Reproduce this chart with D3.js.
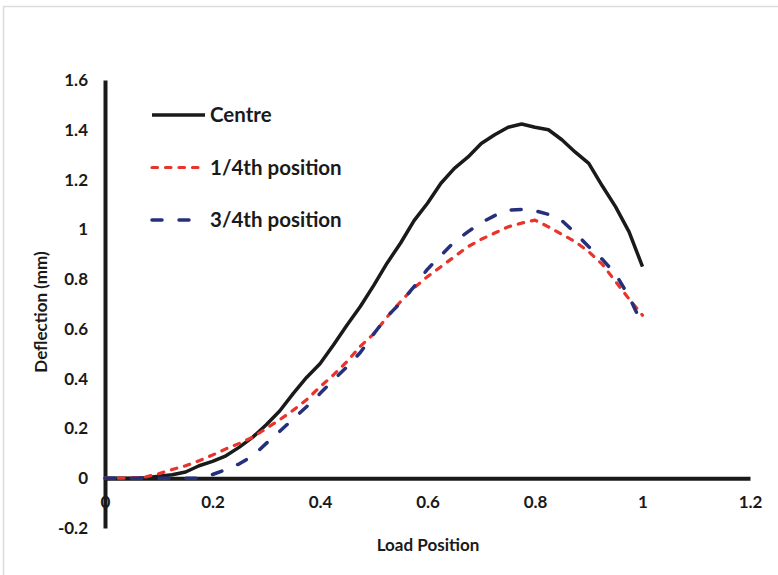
<!DOCTYPE html>
<html>
<head>
<meta charset="utf-8">
<script src="https://cdn.jsdelivr.net/npm/d3@7"></script>
<style>
  body { margin: 0; background: #fff; }
  text { font-family: Lato, "Open Sans", sans-serif; font-weight: bold; fill: #1a1a1a; }
</style>
</head>
<body>
<svg id="chart" width="778" height="575"></svg>
<script>
// load position along the span
const loadPos = [0, 0.025, 0.05, 0.075, 0.1, 0.125, 0.15, 0.175, 0.2, 0.225,
  0.25, 0.275, 0.3, 0.325, 0.35, 0.375, 0.4, 0.425, 0.45, 0.475,
  0.5, 0.525, 0.55, 0.575, 0.6, 0.625, 0.65, 0.675, 0.7, 0.725,
  0.75, 0.775, 0.8, 0.825, 0.85, 0.875, 0.9, 0.925, 0.95, 0.975, 1.0];

// deflection (mm)
const centre = [0, 0, 0, 0.002, 0.008, 0.014, 0.025, 0.05, 0.068, 0.09,
  0.125, 0.165, 0.215, 0.27, 0.34, 0.405, 0.46, 0.535, 0.615, 0.69,
  0.775, 0.865, 0.945, 1.035, 1.105, 1.185, 1.245, 1.29, 1.345, 1.38,
  1.41, 1.423, 1.41, 1.4, 1.36, 1.31, 1.265, 1.175, 1.09, 0.99, 0.85];

const quarter = [0, 0, 0, 0.005, 0.018, 0.035, 0.05, 0.07, 0.093, 0.118,
  0.14, 0.165, 0.2, 0.235, 0.273, 0.315, 0.367, 0.415, 0.468, 0.53,
  0.58, 0.648, 0.71, 0.765, 0.81, 0.85, 0.89, 0.93, 0.96, 0.985,
  1.01, 1.025, 1.037, 1.01, 0.98, 0.95, 0.91, 0.86, 0.79, 0.72, 0.655];

const threeQuarter = [0, 0, 0, 0, 0, 0, 0, 0, 0.015, 0.035,
  0.058, 0.09, 0.14, 0.188, 0.238, 0.287, 0.34, 0.395, 0.447, 0.505,
  0.58, 0.65, 0.705, 0.77, 0.84, 0.895, 0.95, 0.99, 1.027, 1.055,
  1.077, 1.08, 1.075, 1.06, 1.035, 0.985, 0.93, 0.88, 0.82, 0.73, 0.615];

const seriesNames = ['Centre', '1/4th position', '3/4th position'];

const xTicks = [0, 0.2, 0.4, 0.6, 0.8, 1, 1.2];
const xTickLabels = ['0', '0.2', '0.4', '0.6', '0.8', '1', '1.2'];
const yTicks = [-0.2, 0, 0.2, 0.4, 0.6, 0.8, 1, 1.2, 1.4, 1.6];
const yTickLabels = ['-0.2', '0', '0.2', '0.4', '0.6', '0.8', '1', '1.2', '1.4', '1.6'];

const svg = d3.select('#chart');

const x = d3.scaleLinear().domain([0, 1.2]).range([105, 750]);
const y = d3.scaleLinear().domain([-0.2, 1.6]).range([528, 80]);

// frame
svg.append('path')
    .attr('d', 'M3.5,575V6.5H778')
    .attr('fill', 'none')
    .attr('stroke', '#dcdcdc')
    .attr('stroke-width', 1.5);

const styles = [
    { color: '#1a1a1a', width: 3.5, dash: null },
    { color: '#e8342b', width: 3.2, dash: '5.5,8' },
    { color: '#26307a', width: 3.5, dash: '10,17' }
];

const series = [centre, quarter, threeQuarter].map((vals, i) => ({
    name: seriesNames[i],
    style: styles[i],
    points: loadPos.map((p, j) => [p, vals[j]])
}));

// x axis (labels under the line, no tick marks)
const xAxis = svg.append('g')
    .attr('transform', `translate(0,${y(0)})`)
    .call(d3.axisBottom(x)
        .tickValues(xTicks)
        .tickFormat((d, i) => xTickLabels[i])
        .tickSize(0)
        .tickPadding(18));

xAxis.select('.domain')
    .attr('stroke', '#1a1a1a')
    .attr('stroke-width', 4);

xAxis.selectAll('text')
    .style('font-size', '17px')
    .attr('fill', '#1a1a1a');

// y axis
const yAxis = svg.append('g')
    .attr('transform', `translate(${x(0)},0)`)
    .call(d3.axisLeft(y)
        .tickValues(yTicks)
        .tickFormat((d, i) => yTickLabels[i])
        .tickSize(0)
        .tickPadding(17));

yAxis.select('.domain')
    .attr('stroke', '#1a1a1a')
    .attr('stroke-width', 4);

yAxis.selectAll('text')
    .style('font-size', '17px')
    .attr('fill', '#1a1a1a');

// axis titles
svg.append('text')
    .attr('x', 428)
    .attr('y', 551)
    .attr('text-anchor', 'middle')
    .style('font-size', '17px')
    .text('Load Position');

svg.append('text')
    .attr('transform', 'translate(47,312) rotate(-90)')
    .attr('text-anchor', 'middle')
    .style('font-size', '17px')
    .text('Deflection (mm)');

// lines
const line = d3.line()
    .x(d => x(d[0]))
    .y(d => y(d[1]));

svg.append('g')
    .selectAll('path')
    .data(series)
    .join('path')
        .attr('d', d => line(d.points))
        .attr('fill', 'none')
        .attr('stroke', d => d.style.color)
        .attr('stroke-width', d => d.style.width)
        .attr('stroke-dasharray', d => d.style.dash)
        .attr('stroke-linecap', d => d.style.dash ? 'round' : 'butt')
        .attr('stroke-linejoin', 'round');

// legend
const legend = svg.append('g')
    .selectAll('g')
    .data(series)
    .join('g')
        .attr('transform', (d, i) => `translate(152,${115 + i * 52.5})`);

legend.append('line')
    .attr('x1', 0)
    .attr('x2', 53)
    .attr('stroke', d => d.style.color)
    .attr('stroke-width', d => d.style.width)
    .attr('stroke-dasharray', d => d.style.dash)
    .attr('stroke-linecap', d => d.style.dash ? 'round' : 'butt');

legend.append('text')
    .attr('x', 58)
    .attr('dy', '0.35em')
    .style('font-size', '20.5px')
    .text(d => d.name);
</script>
</body>
</html>
